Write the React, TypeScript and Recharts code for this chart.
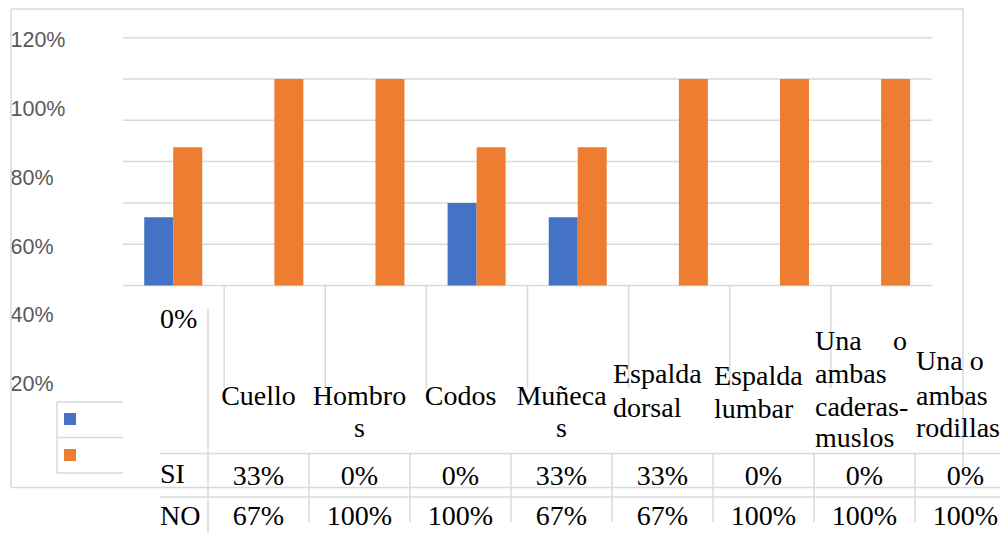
import React from 'react';
import { BarChart, Bar, XAxis, YAxis, CartesianGrid } from 'recharts';

const categories = ['Cuello', 'Hombros', 'Codos', 'Muñecas', 'Espalda dorsal', 'Espalda lumbar', 'Una o ambas caderas-muslos', 'Una o ambas rodillas'];
const siValues = [0.33, 0, 0, 0.4, 0.33, 0, 0, 0];
const noValues = [0.67, 1, 1, 0.67, 0.67, 1, 1, 1];
const gridTicks = [0, 0.2, 0.4, 0.6, 0.8, 1.0, 1.2];
const axisLabelTicks = [0.2, 0.4, 0.6, 0.8, 1.0, 1.2];
const zeroLabel = '0%';
const rowHeaders = ['SI', 'NO'];
const siLabels = ['33%', '0%', '0%', '33%', '33%', '0%', '0%', '0%'];
const noLabels = ['67%', '100%', '100%', '67%', '67%', '100%', '100%', '100%'];
const categoryLines = [
  ['Cuello'],
  ['Hombro', 's'],
  ['Codos'],
  ['Muñeca', 's'],
  ['Espalda', 'dorsal'],
  ['Espalda', 'lumbar'],
  ['Una o', 'ambas', 'caderas-', 'muslos'],
  ['Una o', 'ambas', 'rodillas'],
];

const W = 1000;
const H = 533;
const PL = 123, PR = 932, PT = 37.7, PB = 285.5;
const GRID = '#d9d9d9';
const SERIF = '"Liberation Serif", "Times New Roman", serif';
const SANS = '"Liberation Sans", Arial, sans-serif';

// layout of wrapped category labels in the data table
const labelLayout = [
  { align: 'center', base: [405] },
  { align: 'center', base: [405, 437] },
  { align: 'center', base: [405] },
  { align: 'center', base: [405, 437] },
  { align: 'left', base: [383, 417] },
  { align: 'left', base: [385, 418] },
  { align: 'justify', base: [350, 383, 416, 447] },
  { align: 'left', base: [370, 405, 437] },
];

const fmt = (v: number) => `${Math.round(v * 100)}%`;

const AxisTick = (props: any) => {
  const { y, payload } = props;
  return (
    <text x={10.5} y={y + 7.5} fontSize={21.5} fill="#595959" fontFamily={SANS}>
      {fmt(payload.value)}
    </text>
  );
};

export default function App() {
  const data = categories.map((c, i) => ({ name: c, SI: siValues[i], NO: noValues[i] }));
  const band = (PR - PL) / categories.length;
  const colLeft0 = 208;
  const colW = 101;

  return (
    <div style={{ position: 'absolute', left: 0, top: 0, width: W, height: H, background: '#fff', overflow: 'hidden' }}>
      <div style={{ position: 'absolute', left: 0, top: 0 }}>
        <BarChart
          width={W}
          height={H}
          data={data}
          margin={{ top: PT, left: PL, right: W - PR, bottom: H - PB }}
          barCategoryGap="21%"
          barGap={0}
        >
          <CartesianGrid horizontal vertical={false} stroke={GRID} strokeWidth={1.5} />
          <XAxis dataKey="name" hide />
          <YAxis hide domain={[0, 1.2]} ticks={gridTicks} />
          <Bar dataKey="SI" fill="#4472C4" isAnimationActive={false} />
          <Bar dataKey="NO" fill="#ED7D31" isAnimationActive={false} />
        </BarChart>
      </div>
      <div style={{ position: 'absolute', left: 0, top: 0 }}>
        <BarChart width={120} height={H} data={data} margin={{ top: 39.5, bottom: H - 452.5, left: 0, right: 0 }}>
          <XAxis dataKey="name" hide />
          <YAxis
            type="number"
            domain={[0, 1.2]}
            ticks={axisLabelTicks}
            axisLine={false}
            tickLine={false}
            width={100}
            tick={AxisTick}
          />
          <Bar dataKey="NO" fill="none" fillOpacity={0} legendType="none" isAnimationActive={false} />
        </BarChart>
      </div>
      <svg width={W} height={H} style={{ position: 'absolute', left: 0, top: 0, pointerEvents: 'none' }}>
        <g stroke={GRID} strokeWidth={1.5} fill="none">
          {/* outer border */}
          <line x1={11} y1={9} x2={963} y2={9} />
          <line x1={11} y1={9} x2={11} y2={487.5} />
          <line x1={963} y1={9} x2={963} y2={467} />
          <line x1={11} y1={487.5} x2={1000} y2={487.5} />
          {/* legend box */}
          <line x1={57} y1={402} x2={123} y2={402} />
          <line x1={57} y1={437.5} x2={123} y2={437.5} />
          <line x1={57} y1={473} x2={123} y2={473} />
          <line x1={57} y1={402} x2={57} y2={473} />
          {/* category boundaries below axis */}
          {categories.slice(1).map((_, i) => (
            <line key={'b' + i} x1={PL + band * (i + 1)} y1={PB} x2={PL + band * (i + 1)} y2={388} />
          ))}
          {/* data table */}
          <line x1={208} y1={308} x2={208} y2={533} />
          <line x1={160} y1={453.5} x2={1000} y2={453.5} />
          <line x1={160} y1={497} x2={1000} y2={497} />
          {categories.slice(1).map((_, i) => (
            <line key={'c' + i} x1={colLeft0 + colW * (i + 1)} y1={453.5} x2={colLeft0 + colW * (i + 1)} y2={522} />
          ))}
        </g>
        <rect x={64} y={413} width={12} height={12} fill="#4472C4" />
        <rect x={64} y={449} width={12} height={12} fill="#ED7D31" />
        <g fontFamily={SERIF} fontSize={28} fill="#000">
          <text x={160} y={328}>{zeroLabel}</text>
          <text x={160} y={483}>{rowHeaders[0]}</text>
          <text x={160} y={525}>{rowHeaders[1]}</text>
          {siLabels.map((s, i) => (
            <text key={'s' + i} x={colLeft0 + colW * i + colW / 2} y={485} textAnchor="middle">{s}</text>
          ))}
          {noLabels.map((s, i) => (
            <text key={'n' + i} x={colLeft0 + colW * i + colW / 2} y={525} textAnchor="middle">{s}</text>
          ))}
          {categoryLines.map((lines, i) => {
            const lay = labelLayout[i];
            const left = colLeft0 + colW * i + 1;
            const center = colLeft0 + colW * i + colW / 2;
            return lines.map((ln, j) => {
              const y = lay.base[j];
              if (lay.align === 'center') {
                return <text key={i + '-' + j} x={center} y={y} textAnchor="middle">{ln}</text>;
              }
              if (lay.align === 'justify' && j === 0 && ln.includes(' ')) {
                const parts = ln.split(' ');
                return (
                  <g key={i + '-' + j}>
                    <text x={left} y={y}>{parts[0]}</text>
                    <text x={left + 92} y={y} textAnchor="end">{parts[parts.length - 1]}</text>
                  </g>
                );
              }
              return <text key={i + '-' + j} x={left} y={y}>{ln}</text>;
            });
          })}
        </g>
      </svg>
    </div>
  );
}
